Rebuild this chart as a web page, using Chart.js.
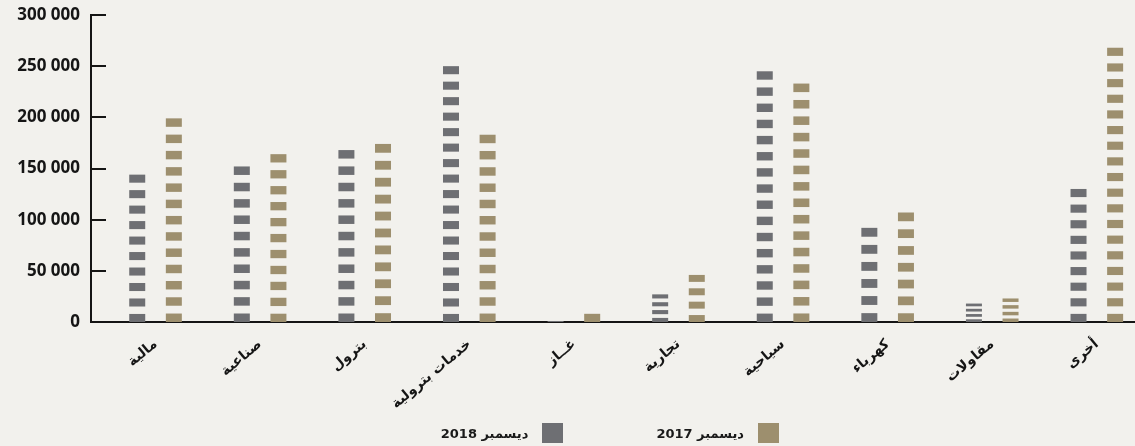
<!DOCTYPE html>
<html>
<head>
<meta charset="utf-8">
<script src="https://cdn.jsdelivr.net/npm/chart.js@4.4.1/dist/chart.umd.min.js"></script>
<style>
  html, body { margin: 0; padding: 0; background: #f2f1ed; }
  #wrap { position: relative; width: 1135px; height: 446px; }
  #legend {
    position: absolute; top: 423px; right: 356px;
    display: flex; direction: rtl; gap: 93px;
    font: bold 13px "DejaVu Sans", sans-serif; color: #1a1a1a;
  }
  .item { display: flex; align-items: center; gap: 14px; height: 20px; }
  .box { width: 21px; height: 20px; }
</style>
</head>
<body>
<div id="wrap">
  <canvas id="chart"></canvas>
  <div id="legend"></div>
</div>
<script>
// Data
const categories = ['مالية', 'صناعية', 'بترول', 'خدمات بترولية', 'غــاز', 'تجارية', 'سياحية', 'كهرباء', 'مقاولات', 'أخرى'];
const dec2018 = [144000, 152000, 168000, 250000, 1000, 27000, 245000, 92000, 18000, 130000];
const dec2017 = [199000, 164000, 174000, 183000, 8000, 46000, 233000, 107000, 23000, 268000];
const seriesNames = ['ديسمبر 2018', 'ديسمبر 2017'];
const seriesColors = ['#6e6f73', '#9d8f6e'];
const yTicks = [0, 50000, 100000, 150000, 200000, 250000, 300000];
const yTickLabels = ['0', '50 000', '100 000', '150 000', '200 000', '250 000', '300 000'];

const textColor = '#151515';

// Bars are drawn as stacks of short dashes
const dashedBars = {
    id: 'dashedBars',
    beforeDatasetDraw(chart, args) {
        const ctx = chart.ctx;
        const ds = chart.data.datasets[args.index];
        ctx.save();
        ctx.fillStyle = ds.backgroundColor;
        args.meta.data.forEach(bar => {
            const h = bar.base - bar.y;
            if (h <= 0) return;
            const n = h < 12 ? 1 : Math.max(4, Math.round(h / 15.5));
            const pitch = h / (n - 0.48);
            const dashH = pitch * 0.52;
            for (let i = 0; i < n; i++) {
                const top = bar.base - i * pitch - dashH;
                ctx.fillRect(bar.x - bar.width / 2, top, bar.width, dashH);
            }
        });
        ctx.restore();
        return false;
    }
};

// Short tick marks on the inside of the y axis
const innerTicks = {
    id: 'innerTicks',
    afterDraw(chart) {
        const y = chart.scales.y;
        const ctx = chart.ctx;
        ctx.save();
        ctx.strokeStyle = textColor;
        ctx.lineWidth = 2;
        y.ticks.forEach(t => {
            if (t.value === 0) return;
            const py = Math.round(y.getPixelForValue(t.value));
            ctx.beginPath();
            ctx.moveTo(y.right, py);
            ctx.lineTo(y.right + 15, py);
            ctx.stroke();
        });
        ctx.restore();
    }
};

const chart = new Chart(document.getElementById('chart'), {
    type: 'bar',
    data: {
        datasets: [
            { label: seriesNames[0], data: dec2018.map((v, i) => ({ x: i, y: v })), backgroundColor: seriesColors[0] },
            { label: seriesNames[1], data: dec2017.map((v, i) => ({ x: i, y: v })), backgroundColor: seriesColors[1] }
        ]
    },
    options: {
        responsive: true,
        maintainAspectRatio: false,
        animation: false,
        layout: { padding: { top: 15, right: 0, bottom: 0, left: 0 } },
        datasets: { bar: { categoryPercentage: 0.70, barPercentage: 0.437 } },
        plugins: { legend: { display: false }, tooltip: { enabled: false } },
        scales: {
            x: {
                type: 'linear',
                offset: false,
                min: -0.617,
                max: 9.365,
                grid: { display: false, drawTicks: false },
                border: { display: true, color: textColor, width: 2 },
                ticks: {
                    stepSize: 1,
                    includeBounds: false,
                    autoSkip: false,
                    minRotation: 40,
                    maxRotation: 40,
                    padding: 14,
                    color: textColor,
                    font: { family: '"DejaVu Sans", sans-serif', size: 14, weight: 'bold' },
                    callback: v => Number.isInteger(v) ? categories[v] : ''
                },
                afterFit: s => { s.height = 124; }
            },
            y: {
                min: 0,
                max: 300000,
                afterBuildTicks: s => { s.ticks = yTicks.map(v => ({ value: v })); },
                grid: { display: false, drawTicks: false },
                border: { display: true, color: textColor, width: 2 },
                ticks: {
                    padding: 11,
                    color: textColor,
                    font: { family: '"Open Sans", sans-serif', size: 17, weight: 'bold' },
                    callback: (v, i) => yTickLabels[i]
                },
                afterFit: s => { s.width = 91; s.paddingTop = 0; s.paddingBottom = 0; }
            }
        }
    },
    plugins: [dashedBars, innerTicks]
});

// HTML legend, right to left, 2017 first
const legend = document.getElementById('legend');
[1, 0].forEach(i => {
    const item = document.createElement('div');
    item.className = 'item';
    item.innerHTML = `<span class="box" style="background:${seriesColors[i]}"></span><span>${seriesNames[i]}</span>`;
    legend.appendChild(item);
});
</script>
</body>
</html>
